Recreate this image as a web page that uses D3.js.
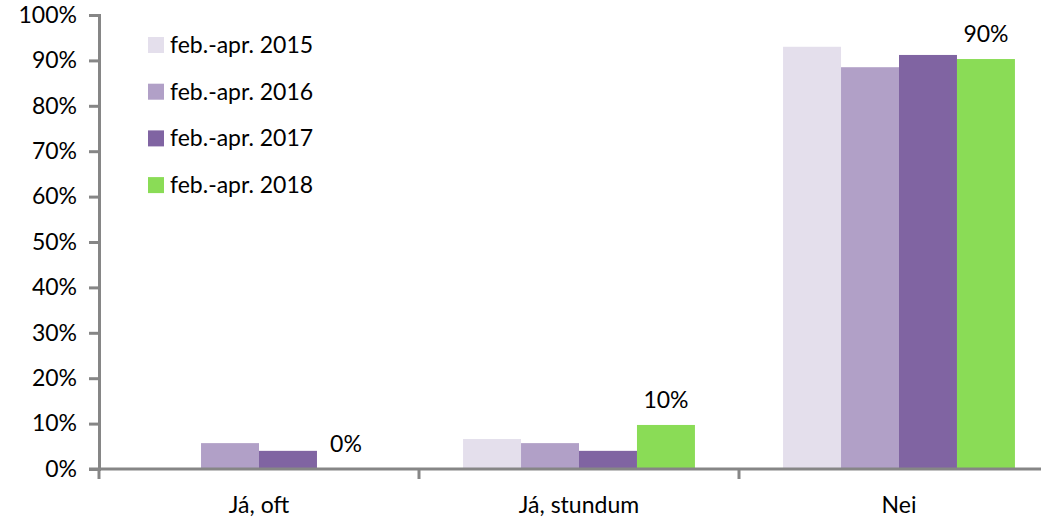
<!DOCTYPE html>
<html lang="is">
<head>
<meta charset="utf-8">
<title>feb.-apr.</title>
<script src="https://d3js.org/d3.v7.min.js"></script>
<style>
  body { margin: 0; background: #fff; }
  text { font-family: Lato, "Open Sans", sans-serif; fill: #000; }
</style>
</head>
<body>
<script>
var categories = ["Já, oft", "Já, stundum", "Nei"];
var seriesNames = ["feb.-apr. 2015", "feb.-apr. 2016", "feb.-apr. 2017", "feb.-apr. 2018"];
var seriesColors = ["#E4DFEC", "#B1A0C7", "#8064A2", "#8ADC56"];
var values2015 = [0, 0.066, 0.930];
var values2016 = [0.057, 0.057, 0.885];
var values2017 = [0.040, 0.040, 0.912];
var values2018 = [0.0, 0.097, 0.903];
var labels2018 = ["0%", "10%", "90%"];
var yTicks = [0, 0.1, 0.2, 0.3, 0.4, 0.5, 0.6, 0.7, 0.8, 0.9, 1.0];

var seriesValues = [values2015, values2016, values2017, values2018];

var w = 1041, h = 522;
var mLeft = 99, mTop = 15, mBottom = 469, mRight = 1059;
var fs = "23px";

var svg = d3.select("body").append("svg")
  .attr("width", w).attr("height", h);

var y = d3.scaleLinear().domain([0, 1]).range([mBottom, mTop]);
var x0 = d3.scaleBand().domain(categories).range([mLeft, mRight]);
var x1 = d3.scaleBand().domain(seriesNames).range([0, x0.bandwidth()]).paddingOuter(0.76);

// bars
var groups = svg.selectAll(".grp")
  .data(categories)
  .enter().append("g")
  .attr("transform", function(d) { return "translate(" + x0(d) + ",0)"; });

groups.each(function(cat, ci) {
  var g = d3.select(this);
  g.selectAll("rect")
    .data(seriesNames.map(function(s, si) { return {s: s, i: si, v: seriesValues[si][ci]}; }))
    .enter().append("rect")
    .attr("x", function(d) { return x1(d.s); })
    .attr("y", function(d) { return y(d.v); })
    .attr("width", x1.bandwidth())
    .attr("height", function(d) { return mBottom - y(d.v); })
    .style("fill", function(d) { return seriesColors[d.i]; });

  g.append("text")
    .attr("x", x1(seriesNames[3]) + x1.bandwidth() / 2)
    .attr("y", y(values2018[ci]) - 17)
    .attr("text-anchor", "middle")
    .style("font-size", fs)
    .text(labels2018[ci]);
});

// y axis
var yAxis = d3.axisLeft(y).tickValues(yTicks).tickFormat(d3.format(".0%")).tickSize(10).tickPadding(12);
var ya = svg.append("g").attr("transform", "translate(" + mLeft + ",0)").call(yAxis);
ya.select(".domain").attr("stroke", "#868686").attr("stroke-width", 3);
ya.selectAll(".tick line").attr("stroke", "#868686").attr("stroke-width", 3);
ya.selectAll(".tick text").style("font-size", fs).style("font-family", "Lato, sans-serif").attr("fill", "#000");

// x axis
var xa = svg.append("g").attr("transform", "translate(0," + mBottom + ")");
xa.append("line")
  .attr("x1", mLeft - 10).attr("x2", mRight)
  .attr("stroke", "#868686").attr("stroke-width", 3);
xa.selectAll(".xt")
  .data(categories.concat(["end"]))
  .enter().append("line")
  .attr("x1", function(d, i) { return mLeft + i * x0.step(); })
  .attr("x2", function(d, i) { return mLeft + i * x0.step(); })
  .attr("y1", 0).attr("y2", 10)
  .attr("stroke", "#868686").attr("stroke-width", 3);
xa.selectAll(".xl")
  .data(categories)
  .enter().append("text")
  .attr("x", function(d) { return x0(d) + x0.bandwidth() / 2; })
  .attr("y", 44)
  .attr("text-anchor", "middle")
  .style("font-size", fs)
  .text(function(d) { return d; });

// legend
var legend = svg.selectAll(".leg")
  .data(seriesNames)
  .enter().append("g")
  .attr("transform", function(d, i) { return "translate(148," + (45 + i * 46.7) + ")"; });
legend.append("rect")
  .attr("x", 0).attr("y", -8).attr("width", 16).attr("height", 16)
  .style("fill", function(d, i) { return seriesColors[i]; });
legend.append("text")
  .attr("x", 22).attr("y", 8)
  .style("font-size", fs)
  .text(function(d) { return d; });
</script>
</body>
</html>
